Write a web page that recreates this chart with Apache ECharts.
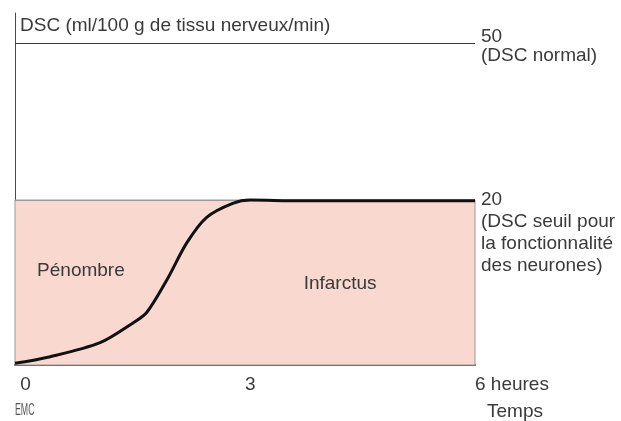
<!DOCTYPE html>
<html>
<head>
<meta charset="utf-8">
<script src="https://cdn.jsdelivr.net/npm/echarts@6/dist/echarts.min.js"></script>
<style>
  html, body { margin: 0; padding: 0; background: #fff; }
  #chart { width: 621px; height: 421px; }
</style>
</head>
<body>
<div id="chart"></div>
<script>
// courbe du débit sanguin cérébral (DSC) en fonction du temps (heures)
const hours = [0, 0.46, 1.11, 1.54, 1.72, 1.98, 2.24, 2.5, 2.84, 3.07, 3.7, 6]
const dsc = [0.2, 1.0, 2.7, 5.1, 6.4, 10.3, 14.8, 17.9, 19.6, 20.0, 19.9, 19.9]

// seuils marqués à droite
const thresholdValues = [50, 20]
const thresholdTitles = ['50', '20']
const thresholdNotes = [['(DSC normal)'], ['(DSC seuil pour', 'la fonctionnalité', 'des neurones)']]

// zones
const zoneNames = ['Pénombre', 'Infarctus']
const zoneAt = [[0.86, 11.4], [4.24, 9.8]]

const xTicks = [0, 3, 6]
const xUnit = 'heures'

const font = 'Liberation Sans'
const textColor = '#3a3a3a'
const fs = 19

const chart = echarts.init(document.getElementById('chart'))

// label à droite d'une ligne : la première ligne de texte reste au niveau du trait
const sideLabel = (i, gap, lh) => ({
  formatter: ['{s| }', '{a|' + thresholdTitles[i] + '}']
    .concat(thresholdNotes[i].map(t => '{a|' + t + '}')).join('\n'),
  rich: {
    s: { lineHeight: gap, fontSize: 1 },
    a: { lineHeight: lh, fontSize: fs, fontFamily: font, color: textColor }
  }
})

const option = {
  animation: false,
  grid: { left: 15, right: 146, top: 13, bottom: 56 },
  xAxis: {
    type: 'value',
    min: xTicks[0],
    max: xTicks[xTicks.length - 1],
    interval: 3,
    name: 'Temps',
    nameLocation: 'end',
    nameGap: 68,
    nameTextStyle: {
      fontFamily: font, fontSize: fs, color: textColor,
      align: 'right', verticalAlign: 'top', padding: [37, 0, 0, 0]
    },
    axisLine: { lineStyle: { color: '#4a4a4a', width: 2 } },
    axisTick: { show: false },
    splitLine: { show: false },
    axisLabel: {
      fontFamily: font, fontSize: fs, color: textColor,
      align: 'left', margin: 10,
      formatter: v => (v === 6 ? v + ' ' + xUnit : (v === 0 ? ' 0' : String(v)))
    }
  },
  yAxis: [
    {
      type: 'value',
      min: 0,
      max: 42.67,
      name: 'DSC (ml/100 g de tissu nerveux/min)',
      nameLocation: 'end',
      nameGap: -13,
      nameTextStyle: {
        fontFamily: font, fontSize: fs, color: textColor,
        align: 'left', verticalAlign: 'middle', padding: [0, 0, 0, 5]
      },
      axisLine: { show: true, lineStyle: { color: '#4a4a4a', width: 1 } },
      axisTick: { show: false },
      axisLabel: { show: false },
      splitLine: { show: false }
    },
    {
      // partie haute du schéma, non à l'échelle
      type: 'value',
      min: -11.53,
      max: 55.73,
      show: false,
      splitLine: { show: false }
    }
  ],
  graphic: [
    {
      type: 'text', left: 15, top: 403, scaleX: 0.55,
      style: { text: 'EMC', font: '16px "Liberation Sans Narrow", "Liberation Sans"', fill: '#555' }
    }
  ],
  series: [
    {
      type: 'line',
      yAxisIndex: 0,
      data: hours.map((h, i) => [h, dsc[i]]),
      smooth: 0.3,
      showSymbol: false,
      lineStyle: { color: '#111', width: 3 },
      z: 5,
      markArea: {
        silent: true,
        itemStyle: { color: '#f8d8cf', borderColor: '#9a9a9a', borderWidth: 1 },
        data: [[{ xAxis: 0, yAxis: 0 }, { xAxis: 6, yAxis: 20 }]]
      },
      markPoint: {
        symbol: 'circle',
        symbolSize: 1,
        itemStyle: { color: 'transparent' },
        label: {
          show: true, position: 'inside',
          fontFamily: font, fontSize: fs, color: textColor,
          formatter: p => p.name
        },
        data: zoneNames.map((n, i) => ({ name: n, coord: zoneAt[i] }))
      }
    },
    {
      type: 'line',
      yAxisIndex: 1,
      data: [],
      markLine: {
        silent: true,
        symbol: ['none', 'none'],
        lineStyle: { type: 'solid', color: '#3a3a3a', width: 1 },
        label: { show: true, position: 'end', distance: 6 },
        data: [
          { yAxis: thresholdValues[0], label: sideLabel(0, 6, 19) },
          { yAxis: thresholdValues[1], lineStyle: { color: '#9a9a9a' }, label: sideLabel(1, 66, 22) }
        ]
      }
    }
  ]
}

chart.setOption(option)
</script>
</body>
</html>
